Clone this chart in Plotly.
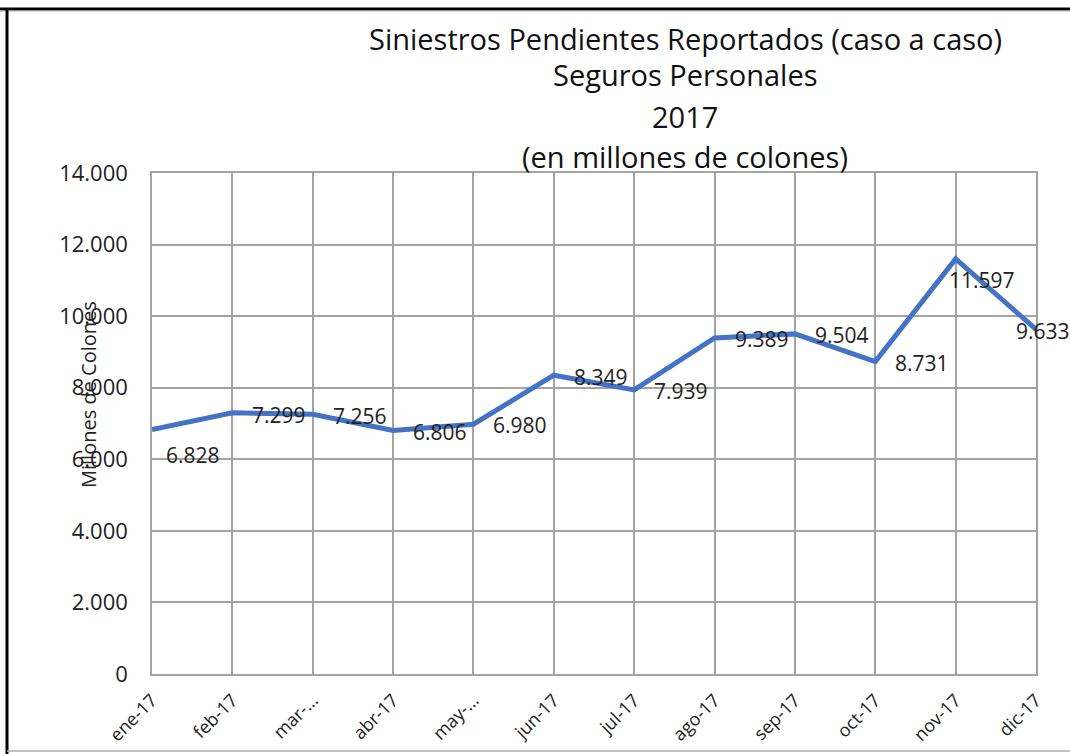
import plotly.graph_objects as go

categories = ["ene-17", "feb-17", "mar-17", "abr-17", "may-17", "jun-17",
              "jul-17", "ago-17", "sep-17", "oct-17", "nov-17", "dic-17"]
tick_labels = ["ene-17", "feb-17", "mar-…", "abr-17", "may-…", "jun-17",
               "jul-17", "ago-17", "sep-17", "oct-17", "nov-17", "dic-17"]
values = [6828, 7299, 7256, 6806, 6980, 8349, 7939, 9389, 9504, 8731, 11597, 9633]
y_ticks = [0, 2000, 4000, 6000, 8000, 10000, 12000, 14000]
title_lines = ["Siniestros Pendientes Reportados (caso a caso)",
               "Seguros Personales", "2017", "(en millones de colones)"]

# label offsets (pixels), style only
label_dx = [12, 18, 18, 18, 18, 18, 18, 18, 18, 18, -9, -22]
label_dy = [-25, -2, -2, -2, -1, -2, -1, -1, -1, -1, -21, -2]

L, R, T, B = 152, 34, 173, 80
W, H = 1070, 754
pw, ph = W - L - R, H - T - B

def px_x(px):
    return (px - L) / pw

def px_y(py):
    return (H - B - py) / ph

FONT = "Open Sans"
GRID = "#a3a3a3"

fig = go.Figure()
fig.add_trace(go.Scatter(
    x=categories, y=values, mode="lines",
    line=dict(color="#4472C4", width=5),
    hoverinfo="skip", showlegend=False,
))

annotations = []
for c, v, dx, dy in zip(categories, values, label_dx, label_dy):
    annotations.append(dict(
        x=c, y=v, xref="x", yref="y", text=f"{v:,}".replace(",", "."),
        showarrow=False, xanchor="left", yanchor="middle",
        xshift=dx, yshift=dy, font=dict(family=FONT, size=21, color="#222222"),
    ))

title_y = [38, 75, 116, 156]
for line, ty in zip(title_lines, title_y):
    annotations.append(dict(
        x=px_x(685), y=px_y(ty), xref="paper", yref="paper", text=line,
        showarrow=False, xanchor="center", yanchor="middle",
        font=dict(family=FONT, size=29, color="#111111"),
    ))

annotations.append(dict(
    x=px_x(88), y=px_y(395), xref="paper", yref="paper",
    text="Millones de Colones", textangle=-90, showarrow=False,
    xanchor="center", yanchor="middle",
    font=dict(family=FONT, size=20, color="#222222"),
))

shapes = [
    dict(type="line", xref="paper", yref="paper", x0=px_x(0), x1=px_x(W),
         y0=px_y(9), y1=px_y(9), line=dict(color="black", width=3)),
    dict(type="line", xref="paper", yref="paper", x0=px_x(0), x1=px_x(W),
         y0=px_y(11), y1=px_y(11), line=dict(color="#b0b0b0", width=1)),
    dict(type="line", xref="paper", yref="paper", x0=px_x(7), x1=px_x(7),
         y0=px_y(8), y1=px_y(H), line=dict(color="black", width=3)),
    dict(type="line", xref="paper", yref="paper", x0=px_x(7), x1=px_x(W),
         y0=px_y(751), y1=px_y(751), line=dict(color="#b0b0b0", width=1.5)),
]

fig.update_layout(
    width=W, height=H,
    margin=dict(l=L, r=R, t=T, b=B, autoexpand=False),
    paper_bgcolor="white", plot_bgcolor="white",
    separators=",.",
    annotations=annotations, shapes=shapes,
    xaxis=dict(
        type="category", categoryorder="array", categoryarray=categories,
        tickmode="array", tickvals=categories, ticktext=tick_labels,
        range=[0, len(categories) - 1], tickangle=-45, automargin=False,
        showgrid=True, gridcolor=GRID, gridwidth=1.5,
        showline=True, linecolor=GRID, linewidth=1.5, mirror=True,
        ticks="", ticklabelstandoff=7,
        tickfont=dict(family=FONT, size=18, color="#222222"),
    ),
    yaxis=dict(
        range=[0, 14000], tickmode="array", tickvals=y_ticks,
        tickformat=",d", automargin=False,
        showgrid=True, gridcolor=GRID, gridwidth=1.5,
        showline=True, linecolor=GRID, linewidth=1.5, mirror=True,
        ticks="", ticklabelstandoff=18, zeroline=False,
        tickfont=dict(family=FONT, size=22, color="#222222"),
    ),
)

fig.write_html("out.html", config={"displayModeBar": False},
               post_script="document.body.style.margin='0';document.body.style.padding='0';")
